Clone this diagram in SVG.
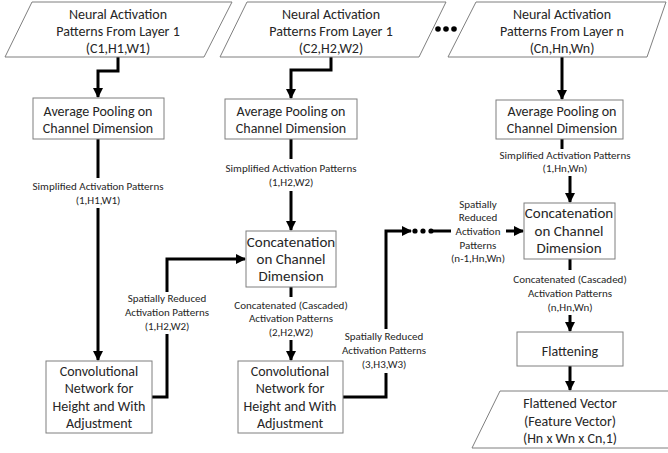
<svg xmlns="http://www.w3.org/2000/svg" width="668" height="453" viewBox="0 0 668 453">
<defs>
<marker id="ah" markerWidth="10" markerHeight="10" refX="9" refY="5" orient="auto" markerUnits="userSpaceOnUse"><path d="M0,0 L10,5 L0,10 Z" fill="#000"/></marker>
</defs>
<style>
.n{fill:#fff;stroke:#7f7f7f;stroke-width:1}
.t{font-family:Carlito,Calibri,Lato,"Liberation Sans",sans-serif;font-size:14px;fill:#262626;text-anchor:middle}
.b{font-size:15px}
.l{font-family:Carlito,Calibri,Lato,"Liberation Sans",sans-serif;font-size:11px;fill:#262626;text-anchor:middle}
.c{fill:none;stroke:#000;stroke-width:3}
.a{marker-end:url(#ah)}
</style>
<rect width="668" height="453" fill="#fff"/>
<g id="connectors">
<polyline class="c a" points="118,57 118,71 98,71 98,97"/>
<polyline class="c a" points="331,57 331,70 291,70 291,98"/>
<polyline class="c a" points="562,57 562,99"/>
<line class="c" x1="98" y1="139" x2="98" y2="178"/>
<line class="c a" x1="98" y1="208" x2="98" y2="360"/>
<polyline class="c" points="152,397 167,397 167,334"/>
<polyline class="c a" points="167,292 167,259 245,259"/>
<line class="c" x1="291" y1="139" x2="291" y2="159"/>
<line class="c a" x1="291" y1="191" x2="291" y2="230"/>
<line class="c" x1="291" y1="287" x2="291" y2="297"/>
<line class="c a" x1="291" y1="340" x2="291" y2="360"/>
<polyline class="c" points="343,397 386,397 386,373"/>
<polyline class="c a" points="386,329 386,231 411,231"/>
<circle cx="415" cy="231" r="2.6"/>
<circle cx="423" cy="231" r="2.6"/>
<circle cx="431" cy="231" r="2.6"/>
<line class="c" x1="431" y1="231" x2="451" y2="231"/>
<line class="c a" x1="506" y1="231" x2="523" y2="231"/>
<line class="c" x1="562" y1="139" x2="562" y2="149"/>
<line class="c a" x1="570" y1="176" x2="570" y2="202"/>
<line class="c" x1="570" y1="259" x2="570" y2="270"/>
<line class="c a" x1="570" y1="315" x2="570" y2="331"/>
<line class="c a" x1="570" y1="366" x2="570" y2="390"/>
<text class="l" x="98" y="190">Simplified Activation Patterns</text>
<text class="l" x="98" y="204">(1,H1,W1)</text>
<text class="l" x="167" y="302">Spatially Reduced</text>
<text class="l" x="167" y="316">Activation Patterns</text>
<text class="l" x="167" y="330">(1,H2,W2)</text>
<text class="l" x="291" y="172">Simplified Activation Patterns</text>
<text class="l" x="291" y="186">(1,H2,W2)</text>
<text class="l" x="291" y="309">Concatenated (Cascaded)</text>
<text class="l" x="291" y="322">Activation Patterns</text>
<text class="l" x="291" y="336">(2,H2,W2)</text>
<text class="l" x="384" y="340">Spatially Reduced</text>
<text class="l" x="384" y="354">Activation Patterns</text>
<text class="l" x="384" y="368">(3,H3,W3)</text>
<text class="l" x="478" y="208">Spatially</text>
<text class="l" x="478" y="221">Reduced</text>
<text class="l" x="478" y="235">Activation</text>
<text class="l" x="478" y="249">Patterns</text>
<text class="l" x="478" y="262">(n-1,Hn,Wn)</text>
<text class="l" x="565" y="159">Simplified Activation Patterns</text>
<text class="l" x="565" y="172">(1,Hn,Wn)</text>
<text class="l" x="570" y="283">Concatenated (Cascaded)</text>
<text class="l" x="570" y="297">Activation Patterns</text>
<text class="l" x="570" y="311">(n,Hn,Wn)</text>
</g>
<g id="input1">
<polygon class="n" points="32,2 232,2 204,57 5,57"/>
<text class="t" x="118" y="19">Neural Activation</text>
<text class="t" x="118" y="36">Patterns From Layer 1</text>
<text class="t" x="118" y="53">(C1,H1,W1)</text>
</g>
<g id="input2">
<polygon class="n" points="247,2 446,2 419,57 220,57"/>
<text class="t" x="331" y="19">Neural Activation</text>
<text class="t" x="331" y="36">Patterns From Layer 1</text>
<text class="t" x="331" y="53">(C2,H2,W2)</text>
</g>
<g id="dots">
<circle cx="438" cy="29" r="2.8"/>
<circle cx="446" cy="29" r="2.8"/>
<circle cx="454" cy="29" r="2.8"/>
</g>
<g id="inputn">
<polygon class="n" points="476,2 666,2 647,57 448,57"/>
<text class="t" x="562" y="19">Neural Activation</text>
<text class="t" x="562" y="36">Patterns From Layer n</text>
<text class="t" x="562" y="53">(Cn,Hn,Wn)</text>
</g>
<g id="pool1">
<rect class="n" x="33" y="98" width="131" height="41"/>
<text class="t" x="98" y="116">Average Pooling on</text>
<text class="t" x="98" y="133">Channel Dimension</text>
</g>
<g id="pool2">
<rect class="n" x="225" y="99" width="132" height="40"/>
<text class="t" x="291" y="116">Average Pooling on</text>
<text class="t" x="291" y="133">Channel Dimension</text>
</g>
<g id="pooln">
<rect class="n" x="496" y="100" width="127" height="39"/>
<text class="t" x="562" y="116">Average Pooling on</text>
<text class="t" x="562" y="133">Channel Dimension</text>
</g>
<g id="conv1">
<rect class="n" x="46" y="361" width="106" height="72"/>
<text class="t" x="99" y="376">Convolutional</text>
<text class="t" x="99" y="393">Network for</text>
<text class="t" x="99" y="411">Height and With</text>
<text class="t" x="99" y="428">Adjustment</text>
</g>
<g id="concat2">
<rect class="n" x="246" y="231" width="90" height="56"/>
<text class="t b" x="291" y="247">Concatenation</text>
<text class="t b" x="291" y="264">on Channel</text>
<text class="t b" x="291" y="281">Dimension</text>
</g>
<g id="conv2">
<rect class="n" x="238" y="361" width="105" height="72"/>
<text class="t" x="290" y="376">Convolutional</text>
<text class="t" x="290" y="393">Network for</text>
<text class="t" x="290" y="411">Height and With</text>
<text class="t" x="290" y="428">Adjustment</text>
</g>
<g id="concatn">
<rect class="n" x="524" y="203" width="91" height="56"/>
<text class="t b" x="569" y="218">Concatenation</text>
<text class="t b" x="569" y="236">on Channel</text>
<text class="t b" x="569" y="253">Dimension</text>
</g>
<g id="flatten">
<rect class="n" x="517" y="332" width="106" height="34"/>
<text class="t" x="570" y="356">Flattening</text>
</g>
<g id="output">
<polygon class="n" points="500,391 700,391 672,448 472,448"/>
<text class="t" x="570" y="408">Flattened Vector</text>
<text class="t" x="570" y="426">(Feature Vector)</text>
<text class="t" x="570" y="443">(Hn x Wn x Cn,1)</text>
</g>
</svg>
